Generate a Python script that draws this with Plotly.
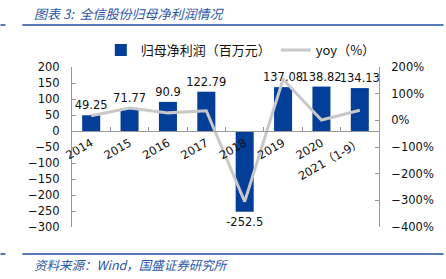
import plotly.graph_objects as go

categories = ["2014", "2015", "2016", "2017", "2018", "2019", "2020", "2021（1-9）"]
net_profit = [49.25, 71.77, 90.9, 122.79, -252.5, 137.08, 138.82, 134.13]
yoy = [17, 46, 28, 36, -305, 154, 1.3, 38]

W, H = 446, 279
L, R, T, B = 72, 65, 67, 52
pw, ph = W - L - R, H - T - B

def px(x):
    return (x - L) / pw

def py(y):
    return (H - B - y) / ph

CJK = "Noto Sans CJK SC, DejaVu Sans, sans-serif"
NUM = "DejaVu Sans, Noto Sans CJK SC, sans-serif"

fig = go.Figure()
fig.add_trace(go.Bar(
    x=categories, y=net_profit, name="归母净利润（百万元）",
    marker=dict(color="#033E98", line=dict(width=0)),
    text=[f"{v:g}" for v in net_profit], textposition="outside",
    constraintext="none",
    textfont=dict(family=NUM, size=11.5, color="#111"),
    cliponaxis=False, yaxis="y",
))
fig.add_trace(go.Scatter(
    x=categories, y=yoy, name="yoy（%）", mode="lines",
    line=dict(color="#C8C8C8", width=3), yaxis="y2",
))

fig.update_layout(
    width=W, height=H,
    margin=dict(l=L, r=R, t=T, b=B),
    paper_bgcolor="white", plot_bgcolor="white",
    font=dict(family=NUM, size=11.5, color="#111"),
    bargap=0.53,
    showlegend=True,
    legend=dict(orientation="h", x=px(101), y=py(50), xanchor="left", yanchor="middle",
                font=dict(family=CJK, size=13, color="#111"), bgcolor="rgba(0,0,0,0)",
                tracegroupgap=0),
    xaxis=dict(
        anchor="free", position=0.6, showline=True, linecolor="#999", linewidth=1,
        ticks="inside", ticklen=4, tickcolor="#999", tickson="boundaries",
        tickangle=-30, showgrid=False, zeroline=False,
        tickfont=dict(family=NUM, size=11.5, color="#111"),
    ),
    yaxis=dict(
        range=[-300, 200], dtick=50, showgrid=False, zeroline=False,
        showline=True, linecolor="#999", linewidth=1,
        ticks="inside", ticklen=4, tickcolor="#999", ticklabelstandoff=9,
        tickfont=dict(family=NUM, size=11.5, color="#111"),
    ),
    yaxis2=dict(
        range=[-400, 200], dtick=100, overlaying="y", side="right",
        ticksuffix="%", showgrid=False, zeroline=False,
        showline=True, linecolor="#999", linewidth=1,
        ticks="inside", ticklen=4, tickcolor="#999", ticklabelstandoff=9,
        tickfont=dict(family=NUM, size=11.5, color="#111"),
    ),
)

# header / footer rules
for yy in (25, 254):
    fig.add_shape(type="line", xref="paper", yref="paper",
                  x0=px(0), x1=px(5), y0=py(yy), y1=py(yy),
                  line=dict(color="#1F4E9F", width=1.5))
    fig.add_shape(type="line", xref="paper", yref="paper",
                  x0=px(22), x1=px(446), y0=py(yy), y1=py(yy),
                  line=dict(color="#1F4E9F", width=1.5))

fig.add_annotation(text="<i>图表 3:  全信股份归母净利润情况</i>", xref="paper", yref="paper",
                   x=px(32), y=py(13), xanchor="left", yanchor="middle", showarrow=False,
                   font=dict(family=CJK, size=13, color="#2A56A8"))
fig.add_annotation(text="<i>资料来源：Wind，国盛证券研究所</i>", xref="paper", yref="paper",
                   x=px(32), y=py(264), xanchor="left", yanchor="middle", showarrow=False,
                   font=dict(family=CJK, size=12.5, color="#2A56A8"))

fig.write_html("out.html")
